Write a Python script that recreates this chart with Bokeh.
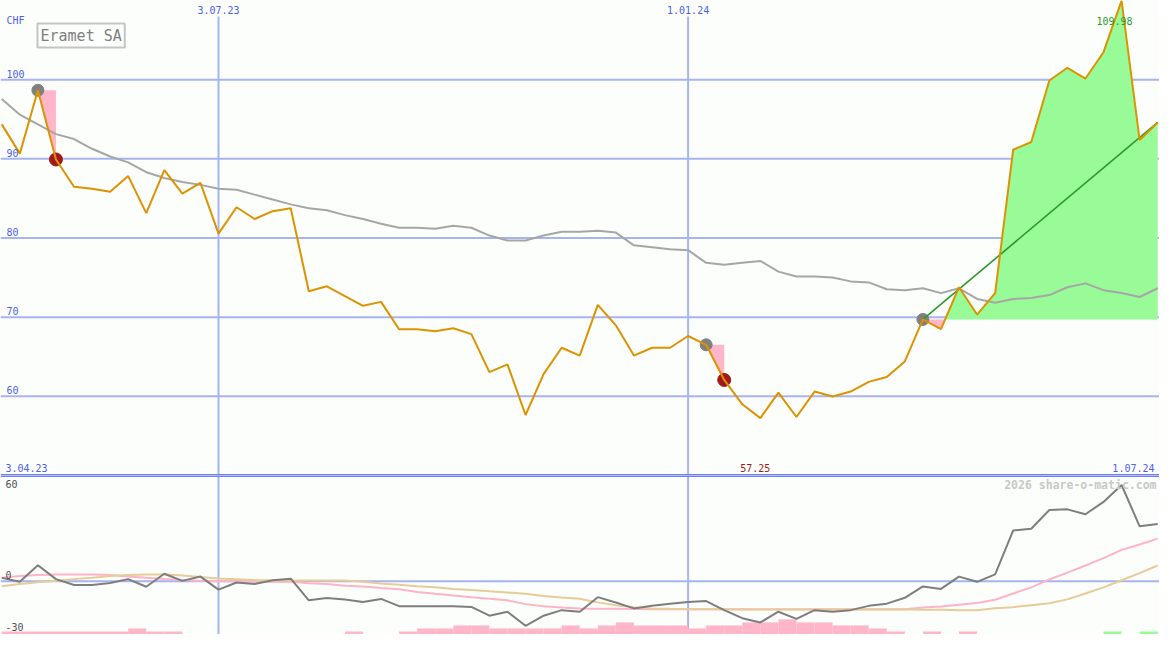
from bokeh.plotting import figure
from bokeh.layouts import column
from bokeh.models import Range1d, Span, Label
from bokeh.core.properties import value
from bokeh.embed import file_html
from bokeh.resources import INLINE

# ---------------- data (weekly closes, CHF) ----------------
weeks = list(range(1, 66))
price = [94.35, 90.66, 98.66, 89.92, 86.47, 86.22, 85.85, 87.82, 83.14, 88.56,
         85.60, 86.96, 80.55, 83.88, 82.40, 83.39, 83.76, 73.28, 73.90, 72.67,
         71.44, 71.93, 68.48, 68.48, 68.23, 68.60, 67.86, 63.06, 64.04, 57.64,
         62.81, 66.14, 65.15, 71.56, 68.97, 65.15, 66.14, 66.14, 67.62, 66.51,
         62.07, 58.99, 57.25, 60.47, 57.39, 60.60, 59.98, 60.60, 61.83, 62.44,
         64.41, 69.71, 68.48, 73.78, 70.33, 73.04, 91.15, 92.13, 99.90, 101.50,
         100.14, 103.47, 109.98, 92.38, 94.60]
ma_long = [97.55, 95.58, 94.35, 93.12, 92.50, 91.27, 90.29, 89.55, 88.31, 87.58,
           87.08, 86.71, 86.22, 86.10, 85.48, 84.87, 84.25, 83.76, 83.51, 82.89,
           82.40, 81.79, 81.29, 81.29, 81.17, 81.54, 81.29, 80.31, 79.69, 79.69,
           80.31, 80.80, 80.80, 80.92, 80.68, 79.07, 78.83, 78.58, 78.46, 76.86,
           76.61, 76.86, 77.10, 75.75, 75.13, 75.13, 75.01, 74.52, 74.39, 73.53,
           73.41, 73.65, 73.04, 73.65, 72.30, 71.81, 72.30, 72.42, 72.79, 73.78,
           74.27, 73.41, 73.04, 72.55, 73.65]
buy_weeks = [3, 40, 52]
sell_weeks = [4, 41]

# indicator panel
ind_gray = [2.2, -0.3, 10.2, 1.4, -2.3, -2.3, -1.1, 1.4, -3.4, 4.8,
            0.3, 3.0, -5.2, -0.7, -1.7, 0.7, 1.7, -12.0, -10.5, -11.5,
            -13.1, -11.1, -15.7, -15.7, -15.7, -15.7, -16.2, -21.7, -19.2, -28.1,
            -21.7, -18.2, -19.2, -10.0, -13.4, -17.1, -15.5, -14.1, -13.1, -12.5,
            -18.2, -23.3, -26.0, -19.2, -23.7, -18.2, -19.2, -18.2, -15.5, -14.1,
            -10.4, -3.2, -4.8, 3.0, -0.3, 4.4, 32.2, 33.2, 45.1, 45.5,
            42.4, 50.2, 60.9, 34.8, 36.3]
ind_pink = [2.3, 3.4, 4.0, 4.3, 4.4, 4.4, 4.0, 3.1, 2.2, 1.5,
            0.9, 0.3, 0.0, 0.0, -0.2, -0.3, -0.3, -1.2, -1.7, -2.8,
            -3.2, -4.2, -5.0, -6.8, -7.9, -8.9, -10.0, -11.0, -12.0, -14.4,
            -15.7, -16.5, -17.1, -17.3, -17.4, -17.5, -17.6, -17.6, -17.6, -17.6,
            -17.6, -17.7, -17.7, -17.7, -17.7, -17.7, -17.7, -17.7, -17.7, -17.7,
            -17.6, -16.5, -15.9, -14.8, -13.7, -11.6, -7.7, -3.8, 1.2, 5.5,
            10.0, 14.7, 19.9, 23.3, 27.0]
ind_tan = [-3.1, -1.7, -0.6, 0.3, 1.4, 2.3, 3.4, 4.0, 4.3, 4.4,
           3.7, 2.8, 1.8, 1.4, 0.9, 0.7, 0.6, 0.6, 0.6, 0.5,
           -0.3, -1.4, -2.2, -3.1, -3.7, -4.8, -5.4, -6.3, -7.1, -7.9,
           -9.2, -10.2, -11.0, -13.3, -15.1, -16.3, -17.1, -17.4, -17.6, -17.6,
           -17.7, -17.8, -17.8, -17.8, -17.8, -17.8, -17.8, -17.8, -17.8, -17.8,
           -17.8, -17.9, -18.0, -18.2, -18.2, -17.0, -16.3, -15.1, -13.9, -11.4,
           -7.7, -3.8, 0.7, 5.2, 10.0]
bar_level = [-1, -1, -1, -1, -1, -1, -1, -2, -1, -1,
             0, 0, 0, 0, 0, 0, 0, 0, 0, -1,
             0, 0, -1, -2, -2, -3, -3, -2, -2, -2,
             -2, -3, -2, -3, -4, -3, -3, -3, -2, -3,
             -3, -4, -4, -5, -4, -4, -3, -3, -2, -1,
             0, -1, 0, -1, 0, 0, 0, 0, 0, 0,
             0, 1, 0, 1, 0]

# ticks / labels
main_ticks = [60, 70, 80, 90, 100]
date_tick_weeks = [13, 39]
date_tick_labels = ["3.07.23", "1.01.24"]
start_label = "3.04.23"
end_label = "1.07.24"
ind_ticks = [60, 0, -30]
title = "Eramet SA"
currency = "CHF"
watermark = "2026 share-o-matic.com"

# ---------------- styling ----------------
W = 1159
H_MAIN = 475
H_IND = 159
BG = "#FCFEFC"
GRID = "#A8B4F0"
AXIS = "#6F80EA"
BLUE_TXT = "#4F5FF0"
ORANGE = "#DD9200"
MA_GRAY = "#A6A6A6"
PINK = "#FFB6C8"
GREEN_FILL = "#98FB98"
GREEN = "#2A9A2A"
DARKRED = "#A01A1A"
MONO = "DejaVu Sans Mono"

X0, X1 = 0.93, 65.1
Y0, Y1 = 50, 110

p = figure(width=W, height=H_MAIN, x_range=Range1d(X0, X1), y_range=Range1d(Y0, Y1),
           output_backend="svg", toolbar_location=None, min_border=0,
           x_axis_type=None, y_axis_type=None, background_fill_color=BG,
           border_fill_color=BG, outline_line_color=None)

for t in main_ticks:
    p.add_layout(Span(location=t, dimension="width", line_color=GRID,
                      line_width=2, level="underlay"))
top_gap = 16 * (Y1 - Y0) / H_MAIN
p.segment(x0=date_tick_weeks, y0=[Y0] * len(date_tick_weeks), x1=date_tick_weeks,
          y1=[Y1 - top_gap] * len(date_tick_weeks), line_color=GRID, line_width=2)


def band(w_start, w_end, base):
    i0, i1 = weeks.index(w_start), weeks.index(w_end)
    xs, ys = [], []
    for i in range(i0, i1):
        xa, xb, ya, yb = weeks[i], weeks[i + 1], price[i], price[i + 1]
        xs.append(xa)
        ys.append(ya)
        if (ya - base) * (yb - base) < 0:
            xs.append(xa + (base - ya) / (yb - ya) * (xb - xa))
            ys.append(base)
    xs.append(weeks[i1])
    ys.append(price[i1])
    return xs, [max(y, base) for y in ys], [min(y, base) for y in ys]


trades = list(zip(buy_weeks, sell_weeks + [weeks[-1]]))
for wb, ws in trades:
    base = price[weeks.index(wb)]
    xs, up, dn = band(wb, ws, base)
    p.varea(x=xs, y1=[base] * len(xs), y2=up, fill_color=GREEN_FILL)
    p.varea(x=xs, y1=dn, y2=[base] * len(xs), fill_color=PINK)

p.line(weeks, ma_long, line_color=MA_GRAY, line_width=2)

p.scatter([w for w in buy_weeks], [price[weeks.index(w)] for w in buy_weeks],
          size=12, color="#808080")
p.scatter([w for w in sell_weeks], [price[weeks.index(w)] for w in sell_weeks],
          size=13, color=DARKRED)

wb_open = buy_weeks[-1]
p.line([wb_open, weeks[-1]], [price[weeks.index(wb_open)], price[-1]],
       line_color=GREEN, line_width=1.6)

p.line(weeks, price, line_color=ORANGE, line_width=2)

p.add_layout(Span(location=Y0, dimension="width", line_color=AXIS, line_width=3))

# texts
p.text(x=[X0] * len(main_ticks), y=main_ticks, text=[str(t) for t in main_ticks],
       x_offset=6, y_offset=-6, text_align="left", text_baseline="middle",
       text_font=value(MONO), text_font_size="10px", text_color=BLUE_TXT)
p.text(x=date_tick_weeks, y=[Y1] * len(date_tick_weeks), text=date_tick_labels,
       y_offset=9, text_align="center", text_baseline="middle",
       text_font=value(MONO), text_font_size="10px", text_color=BLUE_TXT)
p.text(x=[X0], y=[Y0], text=[start_label], x_offset=5, y_offset=-8,
       text_align="left", text_baseline="middle",
       text_font=value(MONO), text_font_size="10px", text_color=BLUE_TXT)
p.text(x=[X1], y=[Y0], text=[end_label], x_offset=-5, y_offset=-8,
       text_align="right", text_baseline="middle",
       text_font=value(MONO), text_font_size="10px", text_color=BLUE_TXT)

i_min = price.index(min(price))
i_max = price.index(max(price))
p.text(x=[weeks[i_min]], y=[Y0], text=[f"{price[i_min]:.2f}"], x_offset=-5, y_offset=-8,
       text_align="center", text_baseline="middle",
       text_font=value(MONO), text_font_size="10px", text_color=DARKRED)
p.text(x=[weeks[i_max]], y=[price[i_max]], text=[f"{price[i_max]:.2f}"], x_offset=-7,
       y_offset=20, text_align="center", text_baseline="middle",
       text_font=value(MONO), text_font_size="10px", text_color=GREEN)

p.add_layout(Label(x=6, y=H_MAIN - 20, x_units="screen", y_units="screen", text=currency,
                   text_align="left", text_baseline="middle", text_font=MONO,
                   text_font_size="10px", text_color=BLUE_TXT))
p.add_layout(Label(x=37, y=H_MAIN - 35, x_units="screen", y_units="screen", text=title,
                   text_align="left", text_baseline="middle", text_font=MONO,
                   text_font_size="15px", text_color="#808080",
                   border_line_color="#C4C4C4", border_line_width=2,
                   background_fill_color=BG, padding=3))

# ---------------- indicator panel ----------------
IY0, IY1 = -33.6, 66.9
q = figure(width=W, height=H_IND, x_range=p.x_range, y_range=Range1d(IY0, IY1),
           output_backend="svg", toolbar_location=None, min_border=0,
           x_axis_type=None, y_axis_type=None, background_fill_color=BG,
           border_fill_color=BG, outline_line_color=None)
q.extra_y_ranges = {"bars": Range1d(0, 52.6)}

q.add_layout(Span(location=0, dimension="width", line_color=GRID, line_width=2,
                  level="underlay"))
for w in date_tick_weeks:
    q.add_layout(Span(location=w, dimension="height", line_color=GRID, line_width=2,
                      level="underlay"))

bx = [w + 0.5 for w, b in zip(weeks, bar_level) if b != 0]
bh = [abs(b) for b in bar_level if b != 0]
bc = [PINK if b < 0 else GREEN_FILL for b in bar_level if b != 0]
q.vbar(x=bx, width=1, bottom=0, top=bh, fill_color=bc, line_color=None,
       y_range_name="bars")

q.line(weeks, ind_pink, line_color="#FFB3C6", line_width=2)
q.line(weeks, ind_tan, line_color="#E5CC98", line_width=2)
q.line(weeks, ind_gray, line_color="#7E7E7E", line_width=2)

q.add_layout(Span(location=IY1, dimension="width", line_color=AXIS, line_width=3))

q.text(x=[X0, X0], y=[ind_ticks[0], ind_ticks[2]], text=[str(ind_ticks[0]), str(ind_ticks[2])],
       x_offset=5, y_offset=-2, text_align="left", text_baseline="middle",
       text_font=value(MONO), text_font_size="10px", text_color="#505050")
q.text(x=[X0], y=[ind_ticks[1]], text=[str(ind_ticks[1])], x_offset=5, y_offset=-6,
       text_align="left", text_baseline="middle",
       text_font=value(MONO), text_font_size="10px", text_color="#505050")
q.add_layout(Label(x=W - 3, y=H_IND - 9, x_units="screen", y_units="screen", text=watermark,
                   text_align="right", text_baseline="middle", text_font=MONO,
                   text_font_size="11.5px", text_font_style="bold", text_color="#C8C8C8"))

layout = column(p, q, spacing=0)
open("out.html", "w").write(file_html(layout, INLINE))
